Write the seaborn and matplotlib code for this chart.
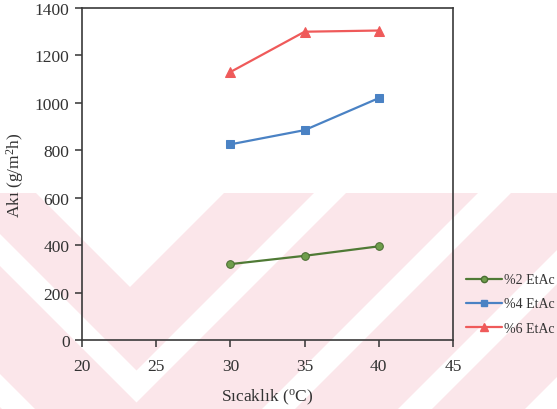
import matplotlib
matplotlib.use("Agg")
import matplotlib.pyplot as plt
from matplotlib.patches import Polygon
from matplotlib.lines import Line2D
import seaborn as sns
import pandas as pd

# Flux measurements at three temperatures for each EtAc concentration
temperature = [30, 35, 40]
flux_etac2 = [320, 355, 395]
flux_etac4 = [825, 885, 1020]
flux_etac6 = [1130, 1300, 1305]

series_labels = ["%2 EtAc", "%4 EtAc", "%6 EtAc"]
x_ticks = [20, 25, 30, 35, 40, 45]
y_ticks = [0, 200, 400, 600, 800, 1000, 1200, 1400]

sns.set_theme(style="white")
plt.rcParams["font.family"] = ["Liberation Serif", "DejaVu Serif"]
plt.rcParams["mathtext.fontset"] = "custom"
plt.rcParams["mathtext.rm"] = "Liberation Serif"
plt.rcParams["mathtext.it"] = "Liberation Serif:italic"

W, H = 557, 410
fig = plt.figure(figsize=(W / 100, H / 100), dpi=100)
fig.patch.set_facecolor("white")

# Faint pink chevron pattern across the lower part of the page (pixel coords)
bg = fig.add_axes([0, 0, 1, 1], zorder=-5)
bg.set_xlim(0, W)
bg.set_ylim(H, 0)
bg.axis("off")
pink = "#fbe6ea"
top = 194
bg.add_patch(Polygon([(0, top), (W, top), (W, H), (0, H)], closed=True,
                     facecolor=pink, edgecolor="none"))


def chevron(d1, d2, c1, c2):
    # white V band: left arm between y - x = d1..d2, right arm between x + y = c1..c2
    apex_in = ((c1 - d1) / 2, (c1 + d1) / 2)
    apex_out = ((c2 - d2) / 2, (c2 + d2) / 2)
    pts = [(0, d1), apex_in, (c1 - top, top), (c2 - top, top), apex_out, (0, d2)]
    return Polygon(pts, closed=True, facecolor="white", edgecolor="none")


def band(c1, c2):
    return Polygon([(c1 - top, top), (c2 - top, top), (c2 - H, H), (c1 - H, H)],
                   closed=True, facecolor="white", edgecolor="none")


# innermost V notch, then the outer white chevrons and stripes
bg.add_patch(Polygon([(top - 158, top), (418 - top, top), (130, 288)], closed=True,
                     facecolor="white", edgecolor="none"))
bg.add_patch(chevron(235, 267, 508, 540))
bg.add_patch(chevron(375, 408, 672, 705))
bg.add_patch(band(808, 842))
bg.add_patch(band(935, 970))

ax = fig.add_axes([82 / W, 1 - 341 / H, (453 - 82) / W, (341 - 9) / H])
ax.set_facecolor("none")

df = pd.DataFrame({
    "T": temperature * 3,
    "flux": flux_etac2 + flux_etac4 + flux_etac6,
    "series": [series_labels[0]] * 3 + [series_labels[1]] * 3 + [series_labels[2]] * 3,
})

styles = {
    series_labels[0]: dict(color="#4f7a35", marker="o", mfc="#6f9e4c", mec="#4a6e33", ms=5.5),
    series_labels[1]: dict(color="#4a82c4", marker="s", mfc="#4a82c4", mec="#4a82c4", ms=5.5),
    series_labels[2]: dict(color="#ef5a5a", marker="^", mfc="#ef5a5a", mec="#ef5a5a", ms=6.5),
}

handles = []
for name in series_labels:
    st = styles[name]
    sns.lineplot(data=df[df["series"] == name], x="T", y="flux", ax=ax,
                 color=st["color"], linewidth=1.6, marker=st["marker"],
                 markersize=st["ms"], markerfacecolor=st["mfc"],
                 markeredgecolor=st["mec"], legend=False)
    handles.append(Line2D([], [], color=st["color"], linewidth=1.6,
                          marker=st["marker"], markersize=st["ms"] - 1,
                          markerfacecolor=st["mfc"], markeredgecolor=st["mec"],
                          label=name))

ax.set_xlim(20, 45)
ax.set_ylim(0, 1400)
ax.set_xticks(x_ticks)
ax.set_yticks(y_ticks)
ax.tick_params(axis="both", which="major", direction="out", length=5, width=1.1,
               color="#333333", labelsize=12.5, labelcolor="#333333",
               bottom=True, left=True)
ax.tick_params(axis="x", pad=8)
ax.tick_params(axis="y", pad=4)
for s in ax.spines.values():
    s.set_color("#3a3a3a")
    s.set_linewidth(1.2)
    s.set_visible(True)

ax.set_xlabel("Sıcaklık ($^{\\mathrm{o}}$C)", fontsize=12.5, color="#333333", labelpad=9)
ax.set_ylabel("Akı (g/m$^{2}$h)", fontsize=12.5, color="#333333", labelpad=6)

fig.legend(handles=handles, loc="center left", bbox_to_anchor=(466 / W, 1 - 305 / H),
           frameon=False, fontsize=10, handlelength=2.6, handletextpad=0.15,
           labelspacing=0.8, borderaxespad=0, borderpad=0,
           labelcolor="#333333")

fig.savefig("out.png", dpi=100, facecolor="white")
